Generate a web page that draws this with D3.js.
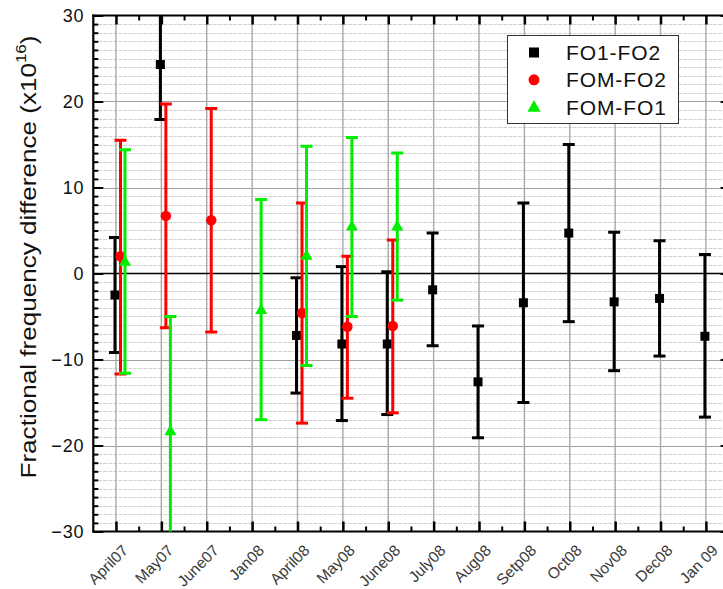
<!DOCTYPE html>
<html>
<head>
<meta charset="utf-8">
<script src="https://cdn.jsdelivr.net/npm/d3@7"></script>
<style>
  body { margin: 0; background: #fff; }
  svg { display: block; font-family: "Liberation Sans", Arial, sans-serif; }
</style>
</head>
<body>
<svg id="chart" width="723" height="589"></svg>
<script>
// ---- data ----
const categories = ["April07","May07","June07","Jan08","April08","May08","June08","July08","Aug08","Setp08","Oct08","Nov08","Dec08","Jan 09"];
const yTicks = [-30,-20,-10,0,10,20,30];

// FO1-FO2 : [category index, value, lower, upper]
const fo1fo2 = [
  [0, -2.5, -9.2, 4.2],
  [1, 24.3, 17.9, 30.7],
  [4, -7.2, -13.9, -0.5],
  [5, -8.2, -17.1, 0.8],
  [6, -8.2, -16.4, 0.2],
  [7, -1.9, -8.4, 4.7],
  [8, -12.6, -19.1, -6.1],
  [9, -3.4, -15.0, 8.2],
  [10, 4.7, -5.6, 15.0],
  [11, -3.3, -11.3, 4.8],
  [12, -2.9, -9.6, 3.8],
  [13, -7.3, -16.7, 2.2]
];
// FOM-FO2
const fomfo2 = [
  [0, 2.0, -11.7, 15.5],
  [1, 6.7, -6.3, 19.7],
  [2, 6.2, -6.8, 19.2],
  [4, -4.6, -17.4, 8.2],
  [5, -6.2, -14.5, 2.0],
  [6, -6.1, -16.2, 3.9]
];
// FOM-FO1
const fomfo1 = [
  [0, 1.4, -11.6, 14.4],
  [1, -18.3, -31.6, -5.0],
  [3, -4.2, -17.0, 8.6],
  [4, 2.1, -10.7, 14.8],
  [5, 5.5, -5.0, 15.8],
  [6, 5.5, -3.1, 14.0]
];
const seriesNames = ["FO1-FO2","FOM-FO2","FOM-FO1"];

(function() {
// ---- layout ----
const svg = d3.select("#chart");
const pL = 93.3, pR = 728.6, pT = 15.5, pB = 531.5;
const x = d3.scaleLinear().domain([-0.5, 13.5]).range([pL, pR]);
const y = d3.scaleLinear().domain([-30, 30]).range([pB, pT]);

const series = [
  {name: seriesNames[0], data: fo1fo2, color: "#000000", dx: -1, shape: "square"},
  {name: seriesNames[1], data: fomfo2, color: "#ff0000", dx: 4.5, shape: "circle"},
  {name: seriesNames[2], data: fomfo1, color: "#00ee00", dx: 9, shape: "triangle"}
];

svg.append("defs").append("clipPath").attr("id","plotclip")
  .append("rect").attr("x", pL).attr("y", pT).attr("width", pR-pL).attr("height", pB-pT);

// grid: minor horizontal (every 1)
const g = svg.append("g");
const minorVals = d3.range(-29, 30).filter(v => v % 10 !== 0);
g.selectAll("line.minor").data(minorVals).enter().append("line")
  .attr("x1", pL).attr("x2", pR)
  .attr("y1", d => Math.round(y(d)) + 0.5).attr("y2", d => Math.round(y(d)) + 0.5)
  .attr("stroke", "#d2d2d2").attr("stroke-width", 1).attr("stroke-dasharray", "4,1");
// major horizontal
g.selectAll("line.major").data([-20,-10,10,20]).enter().append("line")
  .attr("x1", pL).attr("x2", pR)
  .attr("y1", d => Math.round(y(d)) + 0.5).attr("y2", d => Math.round(y(d)) + 0.5)
  .attr("stroke", "#a0a0a0").attr("stroke-width", 1.2);
// vertical grid at categories
g.selectAll("line.vg").data(d3.range(categories.length)).enter().append("line")
  .attr("x1", d => x(d)).attr("x2", d => x(d))
  .attr("y1", pT).attr("y2", pB)
  .attr("stroke", "#a8a8a8").attr("stroke-width", 1.4);
// zero line
g.append("line").attr("x1", pL).attr("x2", pR)
  .attr("y1", y(0)).attr("y2", y(0)).attr("stroke", "#000").attr("stroke-width", 1.5);

// axes (inward ticks)
const catIdx = d3.range(categories.length);
const minorX = d3.range(0, 13).map(v => v + 0.5);
const axisG = svg.append("g");
// bottom
axisG.append("g").attr("transform", `translate(0,${pB})`)
  .call(d3.axisBottom(x).tickValues(catIdx).tickSizeInner(-10).tickSizeOuter(0).tickFormat(""))
  .call(s => s.select(".domain").remove())
  .call(s => s.selectAll("line").attr("stroke-width", 2.5));
axisG.append("g").attr("transform", `translate(0,${pB})`)
  .call(d3.axisBottom(x).tickValues(minorX).tickSizeInner(-5).tickSizeOuter(0).tickFormat(""))
  .call(s => s.select(".domain").remove())
  .call(s => s.selectAll("line").attr("stroke-width", 2));
// top
axisG.append("g").attr("transform", `translate(0,${pT})`)
  .call(d3.axisTop(x).tickValues(catIdx).tickSizeInner(-9).tickSizeOuter(0).tickFormat(""))
  .call(s => s.select(".domain").remove())
  .call(s => s.selectAll("line").attr("stroke-width", 2.5));
axisG.append("g").attr("transform", `translate(0,${pT})`)
  .call(d3.axisTop(x).tickValues(minorX).tickSizeInner(-5).tickSizeOuter(0).tickFormat(""))
  .call(s => s.select(".domain").remove())
  .call(s => s.selectAll("line").attr("stroke-width", 2));
// left
const yMinor = d3.range(-29, 30).filter(v => v % 10 !== 0);
axisG.append("g").attr("transform", `translate(${pL},0)`)
  .call(d3.axisLeft(y).tickValues(yTicks).tickSizeInner(-10).tickSizeOuter(0).tickPadding(9).tickFormat(d3.format("d")))
  .call(s => s.select(".domain").remove())
  .call(s => s.selectAll("line").attr("stroke-width", 2))
  .call(s => s.selectAll("text").attr("font-size", 18).attr("fill", "#111")
      .attr("letter-spacing", 0.8)
      .attr("font-family", "Liberation Sans, Arial, sans-serif"));
axisG.append("g").attr("transform", `translate(${pL},0)`)
  .call(d3.axisLeft(y).tickValues(yMinor).tickSizeInner(-5).tickSizeOuter(0).tickFormat(""))
  .call(s => s.select(".domain").remove())
  .call(s => s.selectAll("line").attr("stroke-width", 2));
// right
axisG.append("g").attr("transform", `translate(${pR},0)`)
  .call(d3.axisRight(y).tickValues(yTicks).tickSizeInner(-8).tickSizeOuter(0).tickFormat(""))
  .call(s => s.select(".domain").remove())
  .call(s => s.selectAll("line").attr("stroke-width", 2));
// frame lines
axisG.append("line").attr("x1", pL).attr("x2", pL).attr("y1", pT-1).attr("y2", pB+1).attr("stroke","#000").attr("stroke-width",2.2);
axisG.append("line").attr("x1", pL-1).attr("x2", pR).attr("y1", pB).attr("y2", pB).attr("stroke","#000").attr("stroke-width",2.2);
axisG.append("line").attr("x1", pL-1).attr("x2", pR).attr("y1", pT).attr("y2", pT).attr("stroke","#000").attr("stroke-width",2.2);

// x labels rotated
svg.append("g").selectAll("text").data(categories).enter().append("text")
  .attr("transform", (d,i) => `translate(${x(i)+13},${pB+20}) rotate(-45)`)
  .attr("text-anchor", "end")
  .attr("font-size", 15.5)
  .attr("fill", "#3a3a3a")
  .text(d => d);

// y title
const yt = svg.append("text")
  .attr("transform", "translate(36,257) rotate(-90)")
  .attr("text-anchor", "middle")
  .attr("font-size", 21.5)
  .attr("fill", "#111")
  .attr("textLength", 443)
  .attr("lengthAdjust", "spacingAndGlyphs");
yt.append("tspan").text("Fractional frequency difference (x10");
yt.append("tspan").attr("font-size", 14).attr("dy", -10).text("16");
yt.append("tspan").attr("dy", 10).text(")");

// markers
function drawMarker(sel, shape, color, size) {
  if (shape === "square") {
    sel.append("rect").attr("x", -size/2).attr("y", -size/2).attr("width", size).attr("height", size).attr("fill", color);
  } else if (shape === "circle") {
    sel.append("circle").attr("r", size/2).attr("fill", color);
  } else {
    const h = size * 0.9;
    sel.append("path").attr("d", `M0,${-h*0.6} L${size/2},${h*0.4} L${-size/2},${h*0.4} Z`).attr("fill", color);
  }
}

const plot = svg.append("g").attr("clip-path", "url(#plotclip)");
series.forEach(s => {
  const sg = plot.append("g");
  const pts = sg.selectAll("g.pt").data(s.data).enter().append("g");
  pts.append("line")
    .attr("x1", d => x(d[0]) + s.dx).attr("x2", d => x(d[0]) + s.dx)
    .attr("y1", d => y(d[2])).attr("y2", d => y(d[3]))
    .attr("stroke", s.color).attr("stroke-width", 3);
  [2, 3].forEach(k => {
    pts.append("line")
      .attr("x1", d => x(d[0]) + s.dx - 6).attr("x2", d => x(d[0]) + s.dx + 6)
      .attr("y1", d => y(d[k])).attr("y2", d => y(d[k]))
      .attr("stroke", s.color).attr("stroke-width", 3);
  });
  pts.append("g")
    .attr("transform", d => `translate(${x(d[0]) + s.dx},${y(d[1])})`)
    .each(function() { drawMarker(d3.select(this), s.shape, s.color, s.shape === "square" ? 9 : (s.shape === "circle" ? 10.5 : 12)); });
});

// legend
const lg = svg.append("g");
lg.append("rect").attr("x", 507.5).attr("y", 35.5).attr("width", 171).attr("height", 88)
  .attr("fill", "#fff").attr("stroke", "#333").attr("stroke-width", 1);
series.forEach((s, i) => {
  const cy = 52.5 + i * 27.3;
  const mg = lg.append("g").attr("transform", `translate(534,${cy})`);
  drawMarker(mg, s.shape, s.color, s.shape === "square" ? 10 : (s.shape === "circle" ? 11 : 13));
  lg.append("text").attr("x", 566).attr("y", cy + 7.5).attr("font-size", 21).attr("letter-spacing", 0.9)
    .attr("fill", "#111").text(s.name);
});
})();
</script>
</body>
</html>
